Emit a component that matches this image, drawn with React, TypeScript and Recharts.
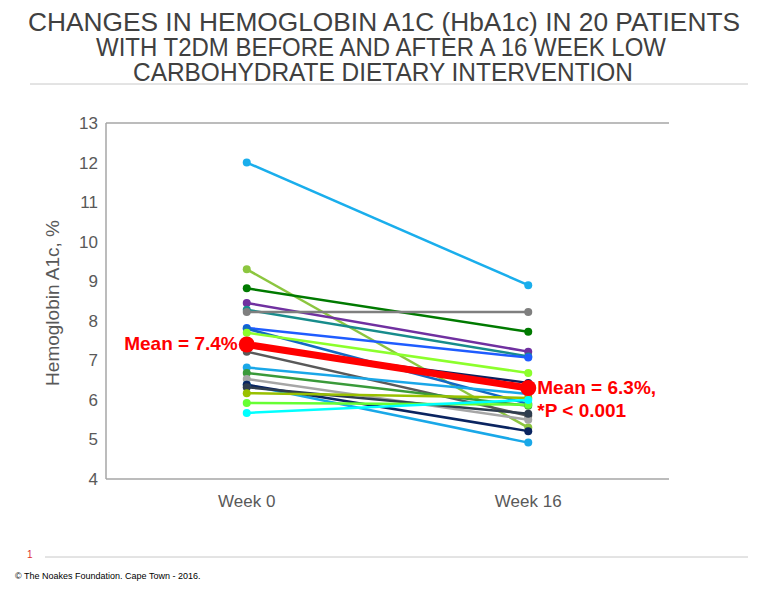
import { LineChart, Line, XAxis, YAxis, ReferenceLine } from "recharts";

const weeks = ["Week 0", "Week 16"];

// HbA1c (%) per patient
const week0 = [12.0, 9.3, 8.82, 8.45, 8.28, 8.22, 7.82, 7.8, 7.7, 7.35, 7.22, 6.82, 6.68, 6.53, 6.38, 6.38, 6.32, 6.17, 5.92, 5.67];
const week16 = [8.9, 5.3, 7.72, 7.22, 7.1, 8.22, 7.07, 5.9, 6.68, 6.43, 5.6, 6.15, 5.85, 5.5, 4.92, 5.21, 5.65, 6.05, 5.88, 6.0];
const meanValues = [7.4, 6.3];

const yTicks = [4, 5, 6, 7, 8, 9, 10, 11, 12, 13];

const COLORS = [
  "#1AAEEC", "#8CC63F", "#007A00", "#7030A0", "#178C8C",
  "#7F7F7F", "#1F5CFF", "#1269C4", "#8CFF2C", "#0D1F5C",
  "#595959", "#1AA7E8", "#3A9A3A", "#A6A6A6", "#19A8E8",
  "#0A2460", "#2F3D4E", "#99C000", "#66FF33", "#00FFFF",
];

const data = weeks.map((week, w) => {
  const row: Record<string, string | number> = { week, mean: meanValues[w] };
  week0.forEach((_, i) => {
    row[`p${i}`] = w === 0 ? week0[i] : week16[i];
  });
  return row;
});

const FONT = "'Liberation Sans', Arial, sans-serif";
const AXIS = "#A6A6A6";
const TEXT = "#595959";

function MeanLabel(props: any) {
  const { x, y, index } = props;
  if (index === 0) {
    return (
      <text x={x - 9} y={y + 5} textAnchor="end" fill="#FF0000" fontSize={19} fontWeight="bold" fontFamily={FONT}>
        Mean = 7.4%
      </text>
    );
  }
  return (
    <text x={x + 9} y={y + 6} fill="#FF0000" fontSize={19} fontWeight="bold" fontFamily={FONT}>
      <tspan x={x + 9}>Mean = 6.3%,</tspan>
      <tspan x={x + 9} dy={23}>*P &lt; 0.001</tspan>
    </text>
  );
}

export default function App() {
  return (
    <div style={{ position: "absolute", left: 0, top: 0, width: 768, height: 590, background: "#fff", fontFamily: FONT }}>
      <svg width={768} height={590} style={{ position: "absolute", left: 0, top: 0 }}>
        <g fill="#404040" fontSize={25} fontFamily={FONT} textAnchor="middle">
          <text x={384} y={31} textLength={712} lengthAdjust="spacingAndGlyphs">
            CHANGES IN HEMOGLOBIN A1C (HbA1c) IN 20 PATIENTS
          </text>
          <text x={381} y={56} textLength={570} lengthAdjust="spacingAndGlyphs">
            WITH T2DM BEFORE AND AFTER A 16 WEEK LOW
          </text>
          <text x={383} y={81} textLength={500} lengthAdjust="spacingAndGlyphs">
            CARBOHYDRATE DIETARY INTERVENTION
          </text>
        </g>
        <line x1={30} x2={748} y1={84} y2={84} stroke="#C8C8C8" strokeWidth={1} />
        <text x={27} y={558} fill="#E03030" fontSize={10} fontFamily={FONT}>1</text>
        <line x1={45} x2={748} y1={557} y2={557} stroke="#C8C8C8" strokeWidth={1} />
        <text x={15} y={579} fill="#000" fontSize={9} fontFamily={FONT}>
          © The Noakes Foundation. Cape Town - 2016.
        </text>
        <text
          x={52}
          y={303}
          transform="rotate(-90 52 303)"
          textAnchor="middle"
          dominantBaseline="central"
          fill={TEXT}
          fontSize={19}
          fontFamily={FONT}
        >
          Hemoglobin A1c, %
        </text>
      </svg>
      <div style={{ position: "absolute", left: 0, top: 0 }}>
        <LineChart width={768} height={590} data={data} margin={{ top: 123, right: 99, bottom: 71, left: 0 }}>
          <XAxis
            dataKey="week"
            scale="band"
            tickLine={false}
            axisLine={{ stroke: AXIS, strokeWidth: 1.5 }}
            tick={{ fill: TEXT, fontSize: 17, fontFamily: FONT }}
            tickMargin={10}
            height={40}
          />
          <YAxis
            domain={[4, 13]}
            ticks={yTicks}
            interval={0}
            tickLine={false}
            axisLine={{ stroke: AXIS, strokeWidth: 1.5 }}
            tick={{ fill: TEXT, fontSize: 17, fontFamily: FONT }}
            width={106}
          />
          <YAxis yAxisId="right" orientation="right" domain={[4, 13]} width={0} tick={false} tickLine={false} axisLine={{ stroke: AXIS, strokeWidth: 1.5 }} />
          <ReferenceLine y={13} stroke={AXIS} strokeWidth={1.5} />
          {week0.map((_, i) => (
            <Line
              key={i}
              type="linear"
              dataKey={`p${i}`}
              stroke={COLORS[i]}
              strokeWidth={2.5}
              dot={{ r: 4, fill: COLORS[i], stroke: COLORS[i], strokeWidth: 0 }}
              activeDot={false}
              isAnimationActive={false}
            />
          ))}
          <Line
            type="linear"
            dataKey="mean"
            stroke="#FF0000"
            strokeWidth={7}
            dot={{ r: 8, fill: "#FF0000", stroke: "#FF0000", strokeWidth: 0 }}
            activeDot={false}
            label={<MeanLabel />}
            isAnimationActive={false}
          />
        </LineChart>
      </div>
    </div>
  );
}
